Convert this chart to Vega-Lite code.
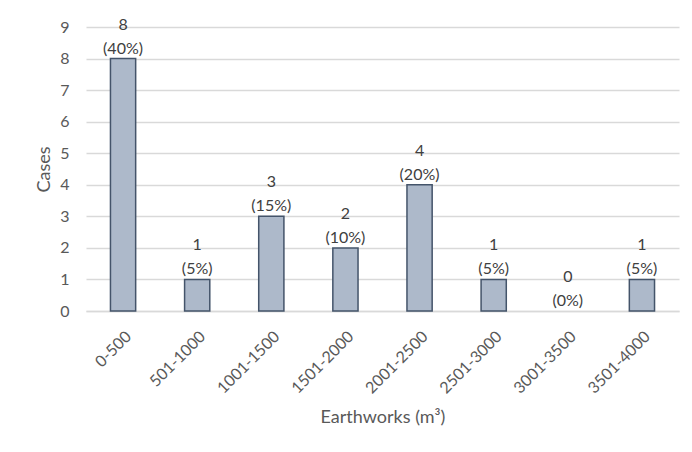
{
  "$schema": "https://vega.github.io/schema/vega-lite/v6.json",
  "width": 593,
  "height": 284,
  "autosize": {"type": "none"},
  "padding": {"left": 86, "top": 27, "right": 13, "bottom": 141},
  "background": "white",
  "config": {
    "view": {"stroke": null},
    "font": "Lato",
    "axis": {
      "labelFont": "Lato",
      "titleFont": "Lato",
      "labelColor": "#595959",
      "titleColor": "#595959",
      "titleFontWeight": "normal",
      "labelFontSize": 16,
      "titleFontSize": 18,
      "gridColor": "#D9D9D9",
      "domainColor": "#D9D9D9",
      "tickColor": "#D9D9D9"
    }
  },
  "data": {
    "values": [
      {"range": "0-500", "cases": 8, "pct": 40},
      {"range": "501-1000", "cases": 1, "pct": 5},
      {"range": "1001-1500", "cases": 3, "pct": 15},
      {"range": "1501-2000", "cases": 2, "pct": 10},
      {"range": "2001-2500", "cases": 4, "pct": 20},
      {"range": "2501-3000", "cases": 1, "pct": 5},
      {"range": "3001-3500", "cases": 0, "pct": 0},
      {"range": "3501-4000", "cases": 1, "pct": 5}
    ]
  },
  "transform": [
    {"calculate": "'(' + datum.pct + '%)'", "as": "pctLabel"}
  ],
  "encoding": {
    "x": {
      "field": "range",
      "type": "nominal",
      "sort": ["0-500", "501-1000", "1001-1500", "1501-2000", "2001-2500", "2501-3000", "3001-3500", "3501-4000"],
      "scale": {"paddingInner": 0.66, "paddingOuter": 0.33},
      "axis": {
        "title": "Earthworks (m³)",
        "labelAngle": -45,
        "labelAlign": "right",
        "labelBaseline": "top",
        "labelPadding": 17,
        "ticks": false,
        "domain": true,
        "domainWidth": 1.5,
        "titlePadding": 12
      }
    },
    "y": {
      "field": "cases",
      "type": "quantitative",
      "scale": {"domain": [0, 9], "nice": false},
      "axis": {
        "title": "Cases",
        "values": [0, 1, 2, 3, 4, 5, 6, 7, 8, 9],
        "domain": false,
        "ticks": false,
        "labelPadding": 17,
        "titlePadding": 6,
        "gridWidth": 1.5
      }
    }
  },
  "layer": [
    {
      "transform": [{"filter": "datum.cases > 0"}],
      "mark": {"type": "bar", "fill": "#ADB9CA", "stroke": "#44546A", "strokeWidth": 1.5}
    },
    {
      "mark": {
        "type": "text",
        "baseline": "alphabetic",
        "dy": -5,
        "fontSize": 16,
        "color": "#404040",
        "font": "Lato"
      },
      "encoding": {"text": {"field": "pctLabel"}}
    },
    {
      "mark": {
        "type": "text",
        "baseline": "alphabetic",
        "dy": -29,
        "fontSize": 16,
        "color": "#404040",
        "font": "Lato"
      },
      "encoding": {"text": {"field": "cases", "type": "quantitative"}}
    }
  ]
}
